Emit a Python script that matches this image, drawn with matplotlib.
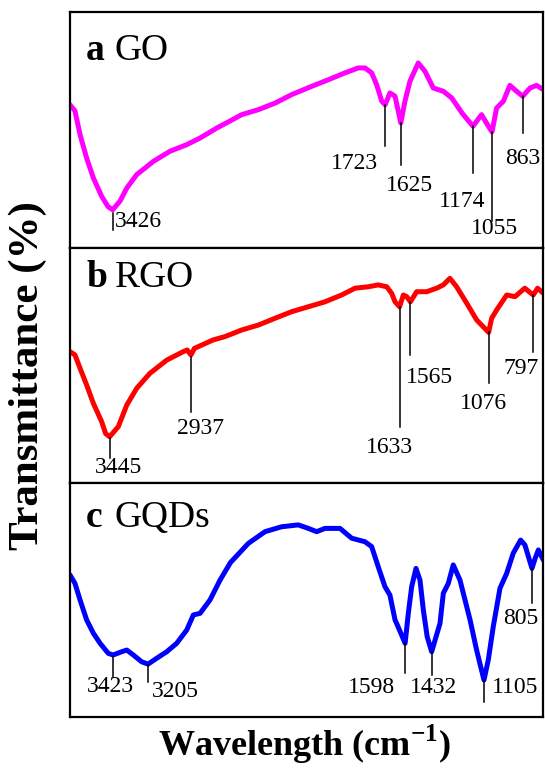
import matplotlib
matplotlib.use("Agg")
import matplotlib.pyplot as plt

plt.rcParams['font.family'] = ['Liberation Serif', 'DejaVu Serif']
plt.rcParams['mathtext.fontset'] = 'custom'
plt.rcParams['mathtext.rm'] = 'Liberation Serif:bold'
plt.rcParams['mathtext.bf'] = 'Liberation Serif:bold'

# wavenumber (cm-1) / transmittance (a.u., 0-100)
go_w = [3693, 3662, 3630, 3589, 3547, 3495, 3455, 3426, 3380, 3338, 3276, 3172, 3068, 2963,
        2880, 2776, 2693, 2620, 2516, 2411, 2307, 2182, 2078, 1974, 1891, 1849, 1807, 1776,
        1744, 1723, 1693, 1661, 1625, 1599, 1568, 1516, 1474, 1422, 1359, 1307, 1240, 1174,
        1120, 1090, 1055, 1026, 984, 943, 901, 863, 817, 776, 734]
go_t = [60.7, 58.1, 48.0, 38.1, 29.7, 21.9, 17.5, 16.2, 19.9, 25.4, 31.1, 36.7, 41.0, 43.8,
        46.6, 50.8, 53.8, 56.5, 58.6, 61.4, 65.0, 68.5, 71.3, 74.2, 76.3, 76.3, 74.2, 69.2,
        62.2, 60.7, 65.7, 64.3, 53.0, 62.2, 70.6, 78.4, 74.9, 67.8, 66.4, 63.6, 57.0, 51.6,
        56.5, 53.0, 49.2, 59.3, 62.2, 68.9, 66.4, 64.3, 67.8, 68.9, 67.1]

rgo_w = [3693, 3662, 3630, 3589, 3547, 3495, 3470, 3445, 3391, 3338, 3276, 3193, 3088, 2985,
         2960, 2937, 2915, 2797, 2724, 2620, 2516, 2411, 2307, 2203, 2099, 1995, 1911, 1828,
         1766, 1713, 1682, 1661, 1633, 1609, 1588, 1565, 1526, 1463, 1401, 1359, 1318, 1276,
         1213, 1151, 1076, 1057, 1026, 963, 911, 850, 797, 770, 734]
rgo_t = [55.9, 54.5, 48.8, 41.7, 33.9, 26.1, 21.0, 19.7, 24.0, 33.2, 40.3, 46.7, 52.3, 55.9,
         56.6, 54.5, 57.3, 60.9, 62.3, 65.1, 67.2, 70.1, 72.9, 75.0, 77.1, 80.0, 82.9, 83.5,
         84.3, 83.5, 80.7, 77.1, 75.0, 80.0, 79.3, 77.1, 81.4, 81.4, 82.9, 84.3, 87.1, 83.5,
         76.5, 69.4, 64.1, 70.1, 73.6, 80.0, 79.3, 82.9, 80.0, 82.9, 80.7]

gqd_w = [3693, 3662, 3630, 3589, 3547, 3505, 3454, 3423, 3370, 3338, 3297, 3245, 3205, 3151,
         3088, 3026, 2963, 2922, 2880, 2818, 2755, 2690, 2578, 2474, 2370, 2266, 2203, 2151,
         2099, 2005, 1932, 1849, 1807, 1766, 1724, 1693, 1661, 1651, 1598, 1578, 1557, 1530,
         1505, 1484, 1460, 1432, 1380, 1359, 1328, 1297, 1255, 1192, 1151, 1105, 1078, 1047,
         1005, 963, 922, 876, 849, 805, 785, 765, 734]
gqd_t = [60.7, 57.1, 50.0, 41.5, 35.8, 31.5, 27.2, 26.5, 27.9, 28.6, 26.5, 23.6, 22.6, 25.1,
         27.9, 31.5, 37.2, 43.6, 44.3, 50.0, 58.5, 66.0, 74.2, 79.2, 81.3, 82.1, 80.6, 79.2,
         80.6, 80.6, 76.4, 74.9, 72.8, 64.2, 55.7, 52.1, 41.5, 40.0, 31.5, 44.3, 55.7, 63.5,
         58.5, 45.7, 34.3, 27.9, 40.0, 52.9, 57.1, 65.0, 58.5, 41.5, 28.6, 15.8, 24.4, 38.6,
         55.0, 61.4, 70.0, 75.6, 73.5, 63.5, 67.8, 71.4, 67.1]

go_peaks = [3426, 1723, 1625, 1174, 1055, 863]
rgo_peaks = [3445, 2937, 1633, 1565, 1076, 797]
gqd_peaks = [3423, 3205, 1598, 1432, 1105, 805]

names = ['GO', 'RGO', 'GQDs']
letters = ['a', 'b', 'c']
colors = ['#ff00ff', '#ff0000', '#0000ff']

# label layout per peak: (line top, line bottom, text x, text y, ha)
go_lab = [(14.8, 7.6, 3410, 11.4, 'left'), (60.7, 43.2, 1768, 35.6, 'right'),
          (53.0, 35.3, 1568, 26.3, 'center'), (51.6, 31.8, 1242, 19.5, 'center'),
          (49.2, 11.4, 1042, 8.1, 'center'), (64.3, 48.7, 861, 38.1, 'center')]
rgo_lab = [(19.1, 10.5, 3387, 6.4, 'center'), (53.7, 30.3, 2880, 23.4, 'center'),
           (75.0, 24.0, 1693, 15.3, 'center'), (77.1, 54.5, 1443, 45.1, 'center'),
           (64.1, 42.4, 1105, 34.0, 'center'), (80.0, 55.9, 874, 48.9, 'center')]
gqd_lab = [(25.8, 17.2, 3443, 13.2, 'center'), (22.2, 15.1, 3037, 10.7, 'center'),
           (31.5, 18.7, 1811, 12.8, 'center'), (27.9, 17.9, 1418, 12.8, 'center'),
           (15.8, 6.5, 911, 12.8, 'center'), (63.5, 48.7, 874, 41.9, 'center')]

series = [(go_w, go_t, go_peaks, go_lab), (rgo_w, rgo_t, rgo_peaks, rgo_lab),
          (gqd_w, gqd_t, gqd_peaks, gqd_lab)]

W, H = 545, 769
fig = plt.figure(figsize=(W / 100, H / 100), dpi=100)

boxes = [(12, 248), (248, 483), (483, 717)]
title_y = [0.797, 0.834, 0.812]
for k in range(3):
    top, bot = boxes[k]
    ax = fig.add_axes([70 / W, 1 - bot / H, 473 / W, (bot - top) / H])
    w, t, peaks, lab = series[k]
    ax.plot(w, t, color=colors[k], lw=3.6, solid_joinstyle='round', solid_capstyle='round')
    for p, (y0, y1, tx, ty, ha) in zip(peaks, lab):
        ax.plot([p, p], [y0, y1], color='black', lw=1.1)
        ax.text(tx, ty, str(p), fontsize=17, ha=ha, va='center')
    ax.set_xlim(3693, 736)
    ax.set_ylim(0, 100)
    ax.set_xticks([])
    ax.set_yticks([])
    for s in ax.spines.values():
        s.set_linewidth(1.6)
    ax.text(0.034, title_y[k], letters[k], transform=ax.transAxes, fontsize=27,
            fontweight='bold', va='baseline')
    ax.text(0.095, title_y[k], names[k], transform=ax.transAxes, fontsize=27, va='baseline')

fig.text(28 / W, 1 - 376 / H, 'Transmittance (%)', rotation=90, fontsize=31,
         fontweight='bold', ha='center', va='center')
fig.text(304 / W, 1 - 756 / H, r'Wavelength (cm$^{-1}$)', fontsize=26,
         fontweight='bold', ha='center', va='baseline')

fig.savefig('out.png', dpi=100)
